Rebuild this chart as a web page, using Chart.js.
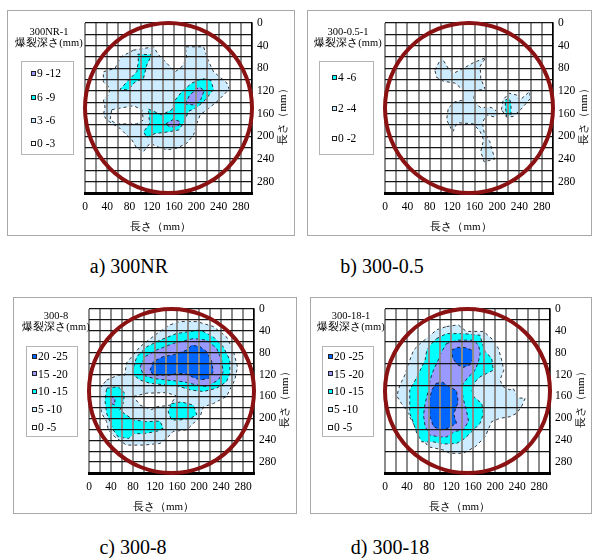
<!DOCTYPE html>
<html lang="ja">
<head>
<meta charset="utf-8">
<script src="https://cdn.jsdelivr.net/npm/chart.js@4/dist/chart.umd.min.js"></script>
<style>
  html, body { margin: 0; padding: 0; background: #fff; }
  body { width: 592px; height: 558px; position: relative; overflow: hidden;
         font-family: "Liberation Serif", "Times New Roman", Tinos, serif; color: #000; }
  .panel { position: absolute; border: 1px solid #a8a8a8; box-sizing: border-box; }
  .plot { position: absolute; }
  .lgTitle { position: absolute; width: 100px; text-align: center; white-space: nowrap; }
  .lgTitle .t1 { font-size: 10.5px; line-height: 11px; height: 11px; }
  .lgTitle .t2 { font-size: 10.5px; line-height: 12px; height: 12px; }
  .lgBox { position: absolute; border: 1px solid #b4b4b4; box-sizing: border-box; }
  .lgItem { position: absolute; height: 12px; display: flex; align-items: center;
            font-size: 11.5px; line-height: 12px; white-space: nowrap; }
  .sw { width: 3px; height: 3px; border: 1px solid #222; margin-right: 1px; }
  .cap { position: absolute; font-size: 20px; line-height: 22px; white-space: nowrap;
         transform: translate(-50%, -50%); }
</style>
</head>
<body>
<script>
// ---- axis ticks (mm) ----
const tickValues = [0, 40, 80, 120, 160, 200, 240, 280];
const ringCentre = 150;   // specimen centre, mm
const ringRadius = 150;   // specimen radius, mm

// ---- texts ----
const specimenNames = ['300NR-1', '300-0.5-1', '300-8', '300-18-1'];
const captions = ['a) 300NR', 'b) 300-0.5', 'c) 300-8', 'd) 300-18'];
const depthTitle = '爆裂深さ(mm)';
const lengthTitle = '長さ（mm）';

// ---- depth classes (legend, deepest first) ----
const classesNR = ['9 -12', '6 -9', '3 -6', '0 -3'];
const classes05 = ['4 -6', '2 -4', '0 -2'];
const classes8  = ['20 -25', '15 -20', '10 -15', '5 -10', '0 -5'];
const classes18 = ['20 -25', '15 -20', '10 -15', '5 -10', '0 -5'];

// ---- spalled zones, [x, y] in mm ----
// 300NR-1
const nr_3_6 = [[87,48],[123,42],[132,56],[147,71],[162,86],[174,77],[183,62],[180,42],[213,42],[222,68],[231,86],[255,106],[259,117],[240,136],[222,151],[207,162],[201,177],[195,198],[183,212],[165,221],[147,224],[129,218],[117,212],[105,227],[93,221],[84,206],[75,198],[63,186],[48,177],[39,171],[33,162],[36,148],[33,136],[42,127],[45,115],[33,104],[33,86],[54,80],[60,68],[66,59]];
const nr_0_3 = [[48,153],[87,146],[102,153],[105,171],[93,178],[57,178],[45,171]];
const nr_6_9a = [[95,55],[120,56],[111,74],[105,98],[90,104],[78,118],[63,117],[78,101],[93,86],[96,68]];
const nr_6_9b = [[114,152],[138,162],[156,153],[162,136],[174,121],[192,106],[210,98],[226,101],[231,117],[216,136],[201,149],[186,156],[177,177],[168,189],[144,193],[126,195],[111,202],[105,192],[116,178]];
const nr_9_12a = [[180,143],[188,127],[205,113],[214,119],[208,135],[198,145]];
const nr_9_12b = [[145,178],[159,170],[171,174],[167,182],[153,184]];

// 300-0.5-1
const p05_2_4a = [[89,83],[101,61],[113,80],[122,89],[140,80],[158,70],[180,61],[170,76],[171,98],[179,117],[161,119],[158,136],[170,149],[190,149],[204,159],[196,166],[181,162],[174,176],[177,193],[187,209],[196,240],[177,245],[171,227],[176,206],[170,192],[158,178],[129,176],[121,192],[110,171],[113,150],[125,139],[140,136],[139,118],[125,106],[105,103],[92,96]];
const p05_2_4b = [[208,153],[211,135],[222,124],[235,127],[240,137],[258,121],[260,133],[242,153],[229,165],[217,166]];
const p05_4_6 = [[215,136],[222,133],[225,142],[225,162],[217,164],[215,148]];

// 300-8
const p8_5_10 = [[32,130],[53,121],[65,121],[68,99],[78,87],[93,69],[108,57],[129,41],[147,29],[165,23],[196,23],[226,32],[250,51],[262,75],[270,106],[265,130],[256,148],[250,160],[226,173],[208,179],[202,197],[190,209],[178,221],[153,224],[141,237],[129,246],[99,249],[68,249],[47,234],[35,221],[32,206],[23,191],[19,167],[20,145]];
const p8_0_5 = [[81,160],[105,154],[141,153],[159,159],[147,176],[123,179],[114,184],[93,176]];
const p8_10_15a = [[81,106],[87,87],[105,69],[129,57],[159,45],[202,38],[226,51],[244,69],[256,93],[256,118],[250,133],[232,145],[208,151],[184,148],[165,142],[141,139],[111,136],[93,130],[81,121]];
const p8_10_15b = [[32,145],[53,142],[65,154],[62,173],[56,185],[68,194],[81,203],[105,206],[129,205],[135,218],[123,224],[99,228],[81,228],[72,237],[53,234],[44,221],[38,206],[32,191],[29,167]];
const p8_10_15c = [[150,173],[168,170],[190,176],[196,194],[184,200],[165,203],[150,203],[144,188]];
const p8_15_20a = [[93,106],[102,87],[123,75],[153,63],[190,54],[214,57],[232,72],[241,93],[244,115],[235,130],[214,142],[196,139],[171,133],[141,130],[117,127],[99,121]];
const p8_15_20b = [[39,160],[47,163],[47,176],[41,173]];
const p8_20_25 = [[111,112],[117,96],[135,87],[153,84],[178,75],[187,66],[202,69],[214,78],[223,96],[226,115],[217,127],[202,130],[187,124],[175,118],[159,118],[147,121],[129,121],[117,121]];

// 300-18-1
const p18_5_10 = [[112,32],[133,29],[148,41],[179,41],[197,57],[206,72],[212,93],[216,112],[209,130],[215,142],[227,148],[233,145],[242,163],[255,163],[248,179],[239,191],[227,197],[209,200],[194,206],[182,234],[164,252],[142,264],[118,264],[106,258],[79,252],[70,240],[58,221],[48,203],[39,185],[30,173],[22,160],[24,148],[30,133],[36,121],[42,102],[52,75],[64,63],[79,51],[94,38]];
const p18_10_15 = [[94,54],[112,45],[142,45],[173,48],[176,60],[182,78],[194,90],[197,112],[185,118],[173,124],[164,133],[158,148],[161,160],[176,173],[179,191],[173,209],[161,221],[145,237],[130,246],[106,247],[88,243],[67,243],[58,228],[52,209],[45,191],[45,173],[45,148],[55,130],[64,112],[73,93],[76,75],[85,63]];
const p18_15_20 = [[112,63],[133,57],[161,57],[170,66],[173,81],[170,96],[164,112],[152,124],[145,133],[139,142],[142,163],[148,185],[152,206],[142,221],[127,224],[112,234],[100,234],[82,231],[73,215],[70,194],[73,173],[79,148],[82,130],[88,112],[97,93],[103,78]];
const p18_20_25a = [[121,75],[133,70],[148,71],[159,76],[161,87],[155,102],[142,107],[132,102],[123,90]];
const p18_20_25b = [[93,136],[105,134],[118,143],[130,149],[133,170],[125,192],[130,209],[115,218],[100,221],[88,215],[82,197],[81,167],[85,148]];

// ---- class colours ----
const WHITE = '#ffffff', PALE = '#cdecff', CYAN = '#00ffff', VIOLET = '#9999ff', BLUE = '#0066ff';

// ---- panels: frame, plot margins, zones (bottom to top), legend ----
const panels = [
  { name: specimenNames[0], caption: captions[0], capAt: [129, 266],
    frame: [7, 10, 288, 226], pad: { l: 78, t: 13, r: 43, b: 43 }, sparseRows: false,
    zones: [[nr_3_6, PALE], [nr_0_3, WHITE], [nr_6_9a, CYAN], [nr_6_9b, CYAN], [nr_9_12a, VIOLET], [nr_9_12b, VIOLET]],
    classes: classesNR, swatches: [VIOLET, CYAN, PALE, WHITE],
    legend: { titleX: 49, titleY: 26, box: [21, 61, 53, 94], swX: 31, rows: [73, 97, 120, 143] } },
  { name: specimenNames[1], caption: captions[1], capAt: [382, 266],
    frame: [307, 10, 285, 226], pad: { l: 78, t: 13, r: 39, b: 43 }, sparseRows: false,
    zones: [[p05_2_4a, PALE], [p05_2_4b, PALE], [p05_4_6, CYAN]],
    classes: classes05, swatches: [CYAN, PALE, WHITE],
    legend: { titleX: 348, titleY: 26, box: [319, 61, 55, 94], swX: 332, rows: [77, 108, 138] } },
  { name: specimenNames[2], caption: captions[2], capAt: [133, 547],
    frame: [13, 297, 284, 217], pad: { l: 76, t: 12, r: 43, b: 41 }, sparseRows: false,
    zones: [[p8_5_10, PALE], [p8_0_5, WHITE], [p8_10_15a, CYAN], [p8_10_15b, CYAN], [p8_10_15c, CYAN],
            [p8_15_20a, VIOLET], [p8_15_20b, VIOLET], [p8_20_25, BLUE]],
    classes: classes8, swatches: [BLUE, VIOLET, CYAN, PALE, WHITE],
    legend: { titleX: 56, titleY: 310, box: [26, 346, 52, 91], swX: 32, rows: [356, 373.5, 391, 409, 427] } },
  { name: specimenNames[3], caption: captions[3], capAt: [390, 547],
    frame: [310, 297, 282, 217], pad: { l: 75, t: 12, r: 42, b: 41 }, sparseRows: true,
    zones: [[p18_5_10, PALE], [p18_10_15, CYAN], [p18_15_20, VIOLET], [p18_20_25a, BLUE], [p18_20_25b, BLUE]],
    classes: classes18, swatches: [BLUE, VIOLET, CYAN, PALE, WHITE],
    legend: { titleX: 351, titleY: 310, box: [322, 346, 52, 91], swX: 328, rows: [356, 373.5, 391, 409, 427] } }
];

const serif = '"Liberation Serif", "Times New Roman", Tinos, serif';

// outline of the specimen plus the two axis titles
const specimenRing = {
  id: 'specimenRing',
  afterDraw(chart) {
    const { ctx, chartArea: area, scales: { x, y } } = chart;
    const cx = x.getPixelForValue(ringCentre);
    const cy = y.getPixelForValue(ringCentre);
    const rx = Math.abs(x.getPixelForValue(ringCentre + ringRadius) - cx);
    const ry = Math.abs(y.getPixelForValue(ringCentre + ringRadius) - cy);
    ctx.save();
    ctx.beginPath();
    ctx.ellipse(cx, cy, rx, ry, 0, 0, Math.PI * 2);
    ctx.lineWidth = 4;
    ctx.strokeStyle = '#8b1212';
    ctx.stroke();

    ctx.fillStyle = '#000';
    ctx.font = '11px ' + serif;
    ctx.textAlign = 'center';
    ctx.textBaseline = 'middle';
    ctx.fillText(lengthTitle, (area.left + area.right) / 2 - 8, area.bottom + 34.5);
    ctx.translate(area.right + 31, (area.top + area.bottom) / 2 + 6);
    ctx.rotate(-Math.PI / 2);
    ctx.fillText(lengthTitle, 0, 0);
    ctx.restore();
  }
};

function zoneDataset(points, colour) {
  const data = points.map(([x, y]) => ({ x, y }));
  data.push({ x: points[0][0], y: points[0][1] });
  return {
    data,
    backgroundColor: colour,
    borderColor: 'rgba(20,20,20,0.85)',
    borderWidth: 1,
    borderDash: [3, 3],
    fill: 'shape',
    pointRadius: 0,
    pointHoverRadius: 0,
    tension: 0
  };
}

function tickLabel(v) {
  return tickValues.includes(v) ? String(v) : '';
}

function addDiv(cls, css, html) {
  const d = document.createElement('div');
  d.className = cls;
  Object.assign(d.style, css);
  if (html !== undefined) d.innerHTML = html;
  document.body.appendChild(d);
  return d;
}

panels.forEach(p => {
  const [fx, fy, fw, fh] = p.frame;
  const canvas = document.createElement('canvas');
  canvas.className = 'plot';
  canvas.width = fw; canvas.height = fh;
  Object.assign(canvas.style, { left: fx + 'px', top: fy + 'px', width: fw + 'px', height: fh + 'px' });
  document.body.appendChild(canvas);
  addDiv('panel', { left: fx + 'px', top: fy + 'px', width: fw + 'px', height: fh + 'px' });

  // lower classes first in the list are painted underneath
  const datasets = p.zones.map(([pts, col]) => zoneDataset(pts, col)).reverse();
  const sparse = p.sparseRows;

  new Chart(canvas, {
    type: 'line',
    data: { datasets },
    options: {
      responsive: false,
      animation: false,
      events: [],
      layout: { padding: { left: p.pad.l, top: p.pad.t, right: 0, bottom: 0 } },
      plugins: { legend: { display: false }, tooltip: { enabled: false } },
      scales: {
        x: {
          type: 'linear', position: 'bottom', min: 0, max: 300,
          afterFit: s => { s.height = p.pad.b; },
          ticks: { stepSize: 20, autoSkip: false, maxRotation: 0, padding: 7, color: '#000',
                   font: { family: serif, size: 11.5 }, callback: tickLabel },
          grid: { z: 1, color: '#8c8c8c', lineWidth: 2, drawTicks: false },
          border: { display: true, color: '#000', width: 3, z: 2 }
        },
        y: {
          type: 'linear', position: 'right', reverse: true, min: 0, max: 300,
          afterFit: s => { s.width = p.pad.r; },
          ticks: { stepSize: 20, autoSkip: false, padding: 5, color: '#000',
                   font: { family: serif, size: 11.5 }, callback: tickLabel },
          grid: { z: 1, lineWidth: 1.2, drawTicks: false,
                  color: c => (sparse && c.tick && c.tick.value % 40 === 0 && c.tick.value > 0 && c.tick.value < 300)
                              ? 'rgba(0,0,0,0)' : '#151515' },
          border: { display: true, color: '#000', width: 1.5, z: 2 }
        }
      }
    },
    plugins: [specimenRing]
  });

  // legend block
  const L = p.legend;
  addDiv('lgTitle', { left: (L.titleX - 50) + 'px', top: L.titleY + 'px' },
         '<div class="t1">' + p.name + '</div><div class="t2">' + depthTitle + '</div>');
  addDiv('lgBox', { left: L.box[0] + 'px', top: L.box[1] + 'px', width: L.box[2] + 'px', height: L.box[3] + 'px' });
  p.classes.forEach((label, i) => {
    addDiv('lgItem', { left: L.swX + 'px', top: (L.rows[i] - 6) + 'px' },
           '<span class="sw" style="background:' + p.swatches[i] + '"></span><span>' + label + '</span>');
  });

  addDiv('cap', { left: p.capAt[0] + 'px', top: p.capAt[1] + 'px' }, p.caption);
});
</script>
</body>
</html>
